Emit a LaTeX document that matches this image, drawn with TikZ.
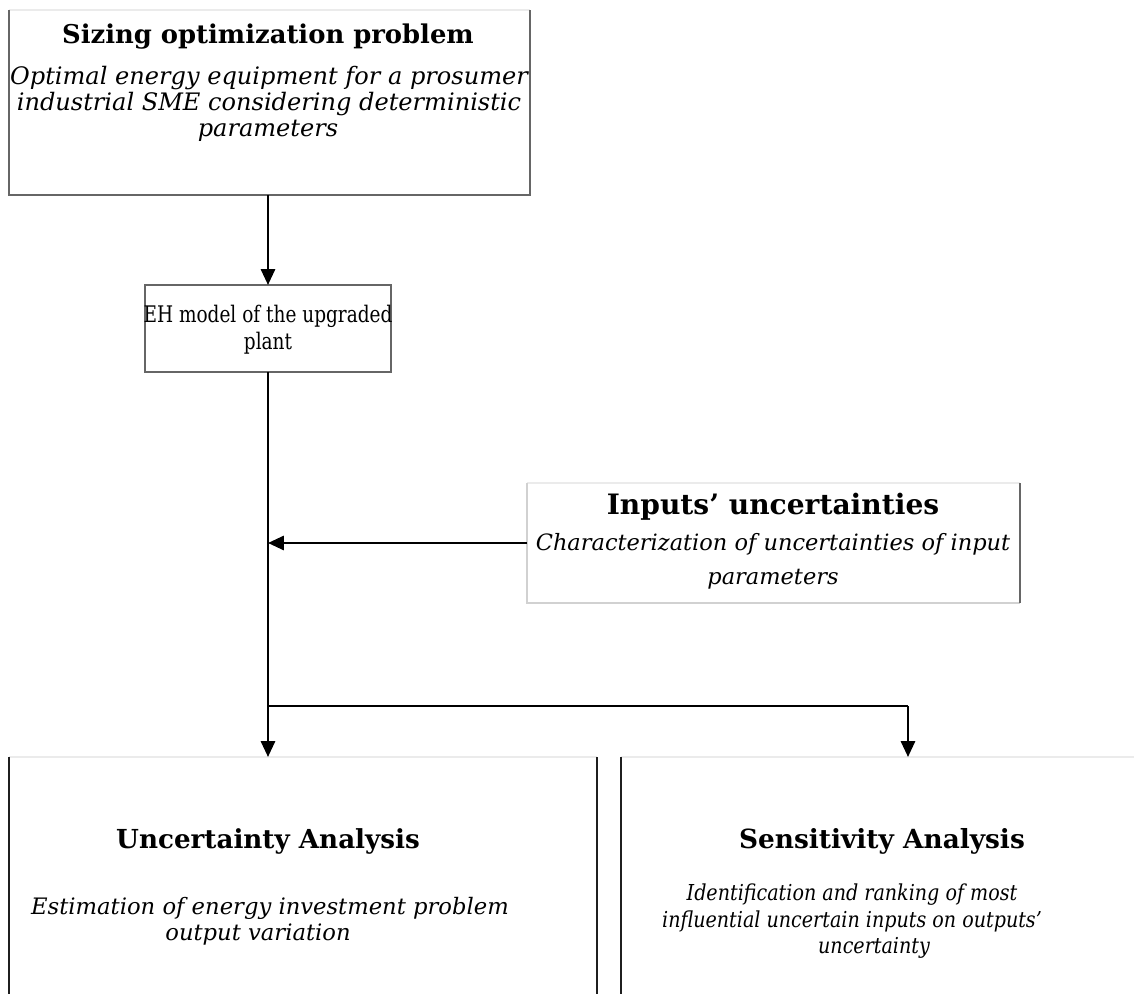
\documentclass[tikz,border=0pt]{standalone}
\usepackage{fontspec}
\setmainfont{DejaVu Serif}
\newfontfamily\narrowserif[FakeStretch=0.81]{DejaVu Serif}
\newfontfamily\narrowitalic[FakeStretch=0.87]{DejaVu Serif}
\usetikzlibrary{arrows.meta,fit}
\begin{document}
\begin{tikzpicture}[x=0.02cm,y=-0.02cm,
  region/.style={inner sep=0pt, outer sep=0pt},
  edgegray/.style={draw=black!60, line width=0.8pt},
  edgelight/.style={draw=black!18, line width=0.7pt},
  edgefaint/.style={draw=black!8, line width=0.7pt},
  edgedark/.style={draw=black!88, line width=0.9pt},
  flow/.style={draw=black, line width=1.4pt, -{Triangle[length=9pt,width=8pt]}},
  link/.style={draw=black, line width=1.4pt},
  ttl/.style={anchor=base, inner sep=0pt, font=\fontsize{#1}{17}\selectfont\bfseries},
  desc/.style={anchor=base, inner sep=0pt, font=\fontsize{#1}{15}\selectfont\itshape},
  narrowdesc/.style={anchor=base, inner sep=0pt, font=\narrowitalic\fontsize{#1}{15}\selectfont\itshape},
  plain/.style={anchor=base, inner sep=0pt, font=\narrowserif\fontsize{#1}{15}\selectfont}
]
\useasboundingbox (0,0) rectangle (1134,994);

% box outlines
\coordinate (szA) at (9,10);    \coordinate (szB) at (530,195);
\coordinate (ehA) at (145,285); \coordinate (ehB) at (391,372);
\coordinate (inA) at (527,483); \coordinate (inB) at (1020,603);
\coordinate (uaA) at (9,757);   \coordinate (uaB) at (597,994);
\coordinate (saA) at (621,757); \coordinate (saB) at (1134,994);
\node[region, fit=(szA)(szB)] (sizing) {};
\node[region, fit=(ehA)(ehB)] (ehmodel) {};
\node[region, fit=(inA)(inB)] (inputs) {};
\node[region, fit=(uaA)(uaB)] (ua) {};
\node[region, fit=(saA)(saB)] (sa) {};

% sizing box sides
\draw[edgefaint] (sizing.north west) -- (sizing.north east);
\draw[edgegray] (sizing.north west) -- (sizing.south west) -- (sizing.south east) -- (sizing.north east);
% EH box
\draw[edgegray] (ehmodel.north west) rectangle (ehmodel.south east);
% inputs box
\draw[edgefaint] (inputs.north west) -- (inputs.north east);
\draw[edgelight] (inputs.north west) -- (inputs.south west) -- (inputs.south east);
\draw[edgegray] (inputs.south east) -- (inputs.north east);
% analysis boxes
\draw[edgefaint] (ua.north west) -- (ua.north east);
\draw[edgedark] (ua.north west) -- (ua.south west);
\draw[edgedark] (ua.north east) -- (ua.south east);
\draw[edgefaint] (sa.north west) -- (sa.north east);
\draw[edgedark] (sa.north west) -- (sa.south west);

% texts
\node[ttl=14.7] (szT) at (268,43) {Sizing optimization problem};
\node[desc=13.7] (sz1) at (269,84) {Optimal energy equipment for a prosumer};
\node[desc=13.7] (sz2) at (269,110) {industrial SME considering deterministic};
\node[desc=13.7] (sz3) at (268,136) {parameters};

\node[plain=13] (eh1) at (268,322) {EH model of the upgraded};
\node[plain=13] (eh2) at (268,349) {plant};

\node[ttl=16] (inT) at (773,514) {Inputs’ uncertainties};
\node[desc=12.8] (in1) at (773,550) {Characterization of uncertainties of input};
\node[desc=12.8] (in2) at (773,584) {parameters};

\node[ttl=14.9] (uaT) at (268,848) {Uncertainty Analysis};
\node[desc=12.9] (ua1) at (270,914) {Estimation of energy investment problem};
\node[desc=12.9] (ua2) at (258,940) {output variation};

\node[ttl=15] (saT) at (882,848) {Sensitivity Analysis};
\node[narrowdesc=12.5] (sa1) at (852,900) {Identification and ranking of most};
\node[narrowdesc=12.5] (sa2) at (852,927) {influential uncertain inputs on outputs’};
\node[narrowdesc=12.5] (sa3) at (874,953) {uncertainty};

% connectors
\coordinate (merge) at (268,543);
\coordinate (split) at (268,706);
\coordinate (splitR) at (908,706);
\draw[flow] (sizing.south -| ehmodel.north) -- (ehmodel.north);
\draw[flow] (inputs.west |- merge) -- (merge);
\draw[link] (ehmodel.south) -- (split) -- (splitR);
\draw[flow] (split) -- (split |- ua.north);
\draw[flow] (splitR) -- (splitR |- sa.north);
\end{tikzpicture}
\end{document}
